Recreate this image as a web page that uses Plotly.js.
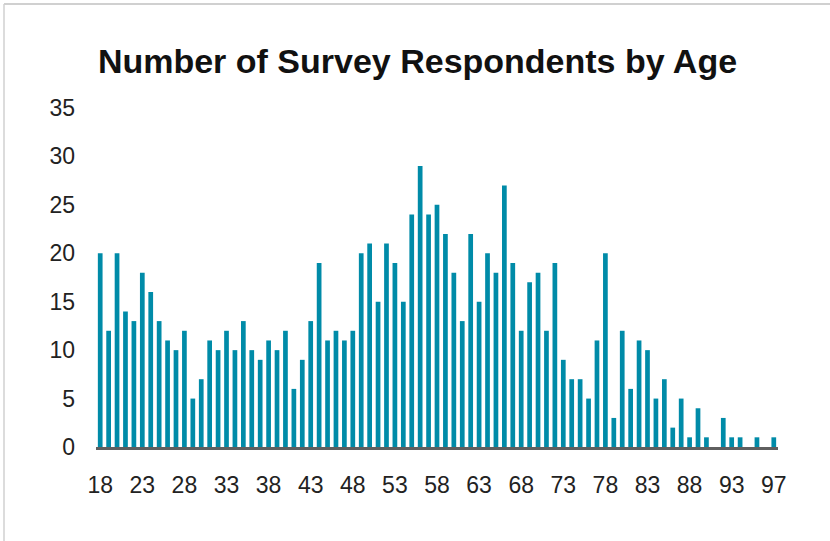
<!DOCTYPE html>
<html>
<head>
<meta charset="utf-8">
<script src="https://cdn.plot.ly/plotly-3.0.1.min.js"></script>
<style>html,body{margin:0;padding:0;background:#fff;}#chart{width:830px;height:541px;}</style>
</head>
<body>
<div id="chart"></div>
<script>
// Categories (age slots as they appear on the axis; one unlabeled empty slot before 97)
var ages = ["18","19","20","21","22","23","24","25","26","27","28","29","30","31","32","33","34","35","36","37",
            "38","39","40","41","42","43","44","45","46","47","48","49","50","51","52","53","54","55","56","57",
            "58","59","60","61","62","63","64","65","66","67","68","69","70","71","72","73","74","75","76","77",
            "78","79","80","81","82","83","84","85","86","87","88","89","90","91","92","93","94","95","96"," ","97"];
var respondents = [20,12,20,14,13,18,16,13,11,10,12,5,7,11,10,12,10,13,10,9,
                   11,10,12,6,9,13,19,11,12,11,12,20,21,15,21,19,15,24,29,24,
                   25,22,18,13,22,15,20,18,27,19,12,17,18,12,19,9,7,7,5,11,
                   20,3,12,6,11,10,5,7,2,5,1,4,1,0,3,1,1,0,1,0,1];
var tickLabels = ["18","23","28","33","38","43","48","53","58","63","68","73","78","83","88","93","97"];
var yTicks = [0,5,10,15,20,25,30,35];

var trace = {
  type: 'bar',
  x: ages,
  y: respondents,
  marker: {color: '#008BA8'},
  hoverinfo: 'x+y'
};

var plotH = 339, plotW = 682;

var layout = {
  width: 830, height: 541,
  margin: {l: 96, r: 52, t: 108, b: 94},
  paper_bgcolor: '#ffffff',
  plot_bgcolor: '#ffffff',
  bargap: 0.44,
  showlegend: false,
  font: {family: 'Liberation Sans, Arial, sans-serif', color: '#222222'},
  title: {
    text: '<b>Number of Survey Respondents by Age</b>',
    font: {family: 'Liberation Sans, Arial, sans-serif', size: 34, color: '#111111'},
    x: 0.503, xanchor: 'center', xref: 'container',
    y: 1 - 61/541, yanchor: 'middle', yref: 'container'
  },
  xaxis: {
    type: 'category',
    categoryorder: 'array',
    categoryarray: ages,
    tickmode: 'array',
    tickvals: tickLabels,
    ticktext: tickLabels,
    showgrid: false,
    zeroline: false,
    showline: true,
    linecolor: '#5f5f5f',
    linewidth: 2.5,
    ticks: '',
    ticklabelstandoff: 16,
    tickfont: {size: 23, color: '#222222'},
    range: [-0.5, ages.length - 0.5],
    fixedrange: true
  },
  yaxis: {
    range: [0, 35],
    tickmode: 'array',
    tickvals: yTicks,
    ticktext: yTicks.map(String),
    showgrid: false,
    zeroline: false,
    showline: false,
    ticks: '',
    ticklabelstandoff: 20,
    tickfont: {size: 23, color: '#222222'},
    fixedrange: true
  },
  shapes: [
    {type: 'line', xref: 'paper', yref: 'paper', x0: -92/plotW, x1: -92/plotW, y0: -94/plotH, y1: 1 + 104/plotH,
     line: {color: '#d0d0d0', width: 1.5}},
    {type: 'line', xref: 'paper', yref: 'paper', x0: -92/plotW, x1: 1 + 52/plotW, y0: 1 + 104/plotH, y1: 1 + 104/plotH,
     line: {color: '#d0d0d0', width: 2}}
  ]
};

Plotly.newPlot('chart', [trace], layout, {displayModeBar: false, staticPlot: true});
</script>
</body>
</html>
